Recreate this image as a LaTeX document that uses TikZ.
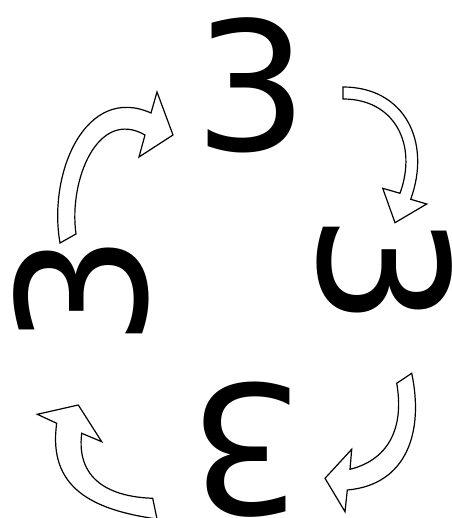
\documentclass[tikz,border=0pt]{standalone}
\usepackage{fontspec}
\newfontfamily\digitfont{DejaVu Sans}
\begin{document}
\begin{tikzpicture}[x=1pt,y=1pt,
  glyph/.style={inner sep=0pt, font=\digitfont\fontsize{179}{179}\selectfont},
  blockarrow/.style={draw=black, fill=white, line width=1.2pt, line join=miter}]
\useasboundingbox (0,0) rectangle (451,518);
\clip (0,0) rectangle (451,518);
% the four turned threes
\node[glyph] (top) at (251,433) {3};
\node[glyph, rotate=-90] (right) at (385,247.5) {3};
\node[glyph, rotate=180] (bottom) at (246.5,68) {3};
\node[glyph, rotate=90] (left) at (81,227.5) {3};
% left -> top
\draw[blockarrow] (60,275) to[out=100,in=156,looseness=1.15] (151,405)
  -- (157,426) -- (173,383) -- (139,361) -- (145,383)
  to[out=150,in=98,looseness=1.15] (76,284) -- cycle;
% top -> right
\draw[blockarrow] (343,431) to[out=0,in=70,looseness=1.2] (410.7,318.7)
  -- (426.7,314) -- (395,295.3) -- (382.7,329.7) -- (400,324.7)
  to[out=70,in=0,looseness=1.2] (343,419) -- cycle;
% right -> bottom
\draw[blockarrow] (411.7,144.7) to[out=-78,in=5,looseness=1.15] (347.3,28)
  -- (345,6.3) -- (325,39.7) -- (351.7,68.7) -- (350,48.7)
  to[out=14,in=-80,looseness=1.1] (396.7,134.7) -- cycle;
% bottom -> left
\draw[blockarrow] (157,-1) to[out=172,in=-98,looseness=1.2] (56.7,94.7)
  -- (37.3,103.7) -- (78.3,113) -- (101.7,76.3) -- (81.7,84.7)
  to[out=-97,in=178,looseness=1.2] (152.7,19.7) -- cycle;
\end{tikzpicture}
\end{document}
